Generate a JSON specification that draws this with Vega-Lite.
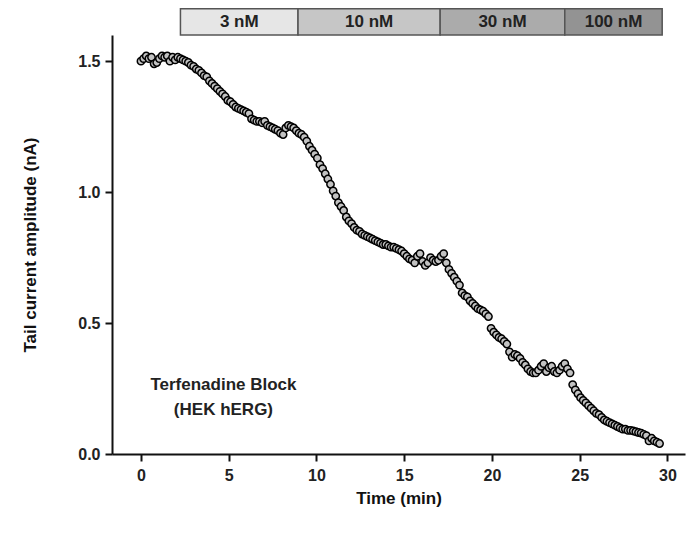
{
  "$schema": "https://vega.github.io/schema/vega-lite/v6.json",
  "width": 573,
  "height": 419,
  "autosize": {"type": "none"},
  "padding": {"left": 112, "top": 35, "right": 6, "bottom": 84},
  "config": {"view": {"stroke": null}, "font": "Liberation Sans"},
  "datasets": {
    "tail": [
      {"t":0,"a":1.5},{"t":0.15,"a":1.51},{"t":0.3,"a":1.52},{"t":0.45,"a":1.51},{"t":0.6,"a":1.515},{"t":0.75,"a":1.49},{"t":0.9,"a":1.495},{"t":1.05,"a":1.51},{"t":1.2,"a":1.52},{"t":1.35,"a":1.515},
      {"t":1.5,"a":1.52},{"t":1.65,"a":1.5},{"t":1.8,"a":1.515},{"t":1.95,"a":1.505},{"t":2.1,"a":1.515},{"t":2.25,"a":1.51},{"t":2.4,"a":1.505},{"t":2.55,"a":1.5},{"t":2.7,"a":1.495},{"t":2.85,"a":1.485},
      {"t":3.0,"a":1.48},{"t":3.15,"a":1.47},{"t":3.3,"a":1.465},{"t":3.45,"a":1.455},{"t":3.6,"a":1.445},{"t":3.75,"a":1.44},{"t":3.9,"a":1.425},{"t":4.05,"a":1.415},{"t":4.2,"a":1.405},{"t":4.35,"a":1.395},
      {"t":4.5,"a":1.385},{"t":4.65,"a":1.375},{"t":4.8,"a":1.365},{"t":4.95,"a":1.35},{"t":5.1,"a":1.345},{"t":5.25,"a":1.335},{"t":5.4,"a":1.325},{"t":5.55,"a":1.32},{"t":5.7,"a":1.315},{"t":5.85,"a":1.31},
      {"t":6.0,"a":1.305},{"t":6.15,"a":1.3},{"t":6.3,"a":1.28},{"t":6.45,"a":1.275},{"t":6.6,"a":1.27},{"t":6.75,"a":1.27},{"t":6.9,"a":1.265},{"t":7.05,"a":1.27},{"t":7.2,"a":1.255},{"t":7.35,"a":1.25},
      {"t":7.5,"a":1.245},{"t":7.65,"a":1.24},{"t":7.8,"a":1.235},{"t":7.95,"a":1.225},{"t":8.1,"a":1.22},{"t":8.25,"a":1.245},{"t":8.4,"a":1.255},{"t":8.55,"a":1.25},{"t":8.7,"a":1.245},{"t":8.85,"a":1.235},
      {"t":9.0,"a":1.225},{"t":9.15,"a":1.22},{"t":9.3,"a":1.21},{"t":9.45,"a":1.195},{"t":9.6,"a":1.175},{"t":9.75,"a":1.16},{"t":9.9,"a":1.145},{"t":10.05,"a":1.13},{"t":10.2,"a":1.105},{"t":10.35,"a":1.09},
      {"t":10.5,"a":1.07},{"t":10.65,"a":1.05},{"t":10.8,"a":1.03},{"t":10.95,"a":1.005},{"t":11.1,"a":0.985},{"t":11.25,"a":0.96},{"t":11.4,"a":0.945},{"t":11.55,"a":0.93},{"t":11.7,"a":0.905},{"t":11.85,"a":0.89},
      {"t":12.0,"a":0.88},{"t":12.15,"a":0.865},{"t":12.3,"a":0.855},{"t":12.45,"a":0.85},{"t":12.6,"a":0.84},{"t":12.75,"a":0.835},{"t":12.9,"a":0.83},{"t":13.05,"a":0.825},{"t":13.2,"a":0.82},{"t":13.35,"a":0.815},
      {"t":13.5,"a":0.81},{"t":13.65,"a":0.805},{"t":13.8,"a":0.8},{"t":13.95,"a":0.8},{"t":14.1,"a":0.795},{"t":14.25,"a":0.79},{"t":14.4,"a":0.79},{"t":14.55,"a":0.785},{"t":14.7,"a":0.78},{"t":14.85,"a":0.775},
      {"t":15.0,"a":0.765},{"t":15.15,"a":0.755},{"t":15.3,"a":0.745},{"t":15.45,"a":0.74},{"t":15.6,"a":0.73},{"t":15.75,"a":0.755},{"t":15.9,"a":0.765},{"t":16.05,"a":0.735},{"t":16.2,"a":0.72},{"t":16.35,"a":0.73},
      {"t":16.5,"a":0.75},{"t":16.65,"a":0.74},{"t":16.8,"a":0.735},{"t":16.95,"a":0.74},{"t":17.1,"a":0.755},{"t":17.25,"a":0.765},{"t":17.4,"a":0.73},{"t":17.55,"a":0.705},{"t":17.7,"a":0.69},{"t":17.85,"a":0.675},
      {"t":18.0,"a":0.66},{"t":18.15,"a":0.645},{"t":18.3,"a":0.615},{"t":18.45,"a":0.605},{"t":18.6,"a":0.6},{"t":18.75,"a":0.585},{"t":18.9,"a":0.575},{"t":19.05,"a":0.565},{"t":19.2,"a":0.555},{"t":19.35,"a":0.55},
      {"t":19.5,"a":0.545},{"t":19.65,"a":0.535},{"t":19.8,"a":0.525},{"t":19.95,"a":0.48},{"t":20.1,"a":0.465},{"t":20.25,"a":0.455},{"t":20.4,"a":0.445},{"t":20.55,"a":0.44},{"t":20.7,"a":0.43},{"t":20.85,"a":0.42},
      {"t":21.0,"a":0.39},{"t":21.15,"a":0.37},{"t":21.3,"a":0.38},{"t":21.45,"a":0.375},{"t":21.6,"a":0.365},{"t":21.75,"a":0.35},{"t":21.9,"a":0.34},{"t":22.05,"a":0.325},{"t":22.2,"a":0.315},{"t":22.35,"a":0.31},
      {"t":22.5,"a":0.31},{"t":22.65,"a":0.32},{"t":22.8,"a":0.335},{"t":22.95,"a":0.345},{"t":23.1,"a":0.315},{"t":23.25,"a":0.33},{"t":23.4,"a":0.335},{"t":23.55,"a":0.315},{"t":23.7,"a":0.31},{"t":23.85,"a":0.32},
      {"t":24.0,"a":0.335},{"t":24.15,"a":0.345},{"t":24.3,"a":0.325},{"t":24.45,"a":0.31},{"t":24.6,"a":0.265},{"t":24.75,"a":0.245},{"t":24.9,"a":0.23},{"t":25.05,"a":0.215},{"t":25.2,"a":0.205},{"t":25.35,"a":0.195},
      {"t":25.5,"a":0.185},{"t":25.65,"a":0.175},{"t":25.8,"a":0.165},{"t":25.95,"a":0.155},{"t":26.1,"a":0.15},{"t":26.25,"a":0.14},{"t":26.4,"a":0.13},{"t":26.55,"a":0.125},{"t":26.7,"a":0.12},{"t":26.85,"a":0.115},
      {"t":27.0,"a":0.11},{"t":27.15,"a":0.105},{"t":27.3,"a":0.1},{"t":27.45,"a":0.095},{"t":27.6,"a":0.095},{"t":27.75,"a":0.09},{"t":27.9,"a":0.09},{"t":28.05,"a":0.088},{"t":28.2,"a":0.085},{"t":28.35,"a":0.082},
      {"t":28.5,"a":0.08},{"t":28.65,"a":0.075},{"t":28.8,"a":0.07},{"t":28.95,"a":0.05},{"t":29.1,"a":0.06},{"t":29.25,"a":0.05},{"t":29.4,"a":0.045},{"t":29.55,"a":0.04}
    ],
    "conc": [
      {"label": "3 nM", "start": 2.25, "end": 8.95, "shade": "c1"},
      {"label": "10 nM", "start": 8.95, "end": 17.05, "shade": "c2"},
      {"label": "30 nM", "start": 17.05, "end": 24.15, "shade": "c3"},
      {"label": "100 nM", "start": 24.15, "end": 29.7, "shade": "c4"}
    ],
    "note": [{"note": "Terfenadine Block (HEK hERG)"}]
  },
  "layer": [
    {
      "data": {"name": "tail"},
      "mark": {"type": "circle", "size": 54, "fill": "#c2c2c2", "stroke": "#000000", "strokeWidth": 1.5, "opacity": 1},
      "encoding": {
        "x": {
          "field": "t", "type": "quantitative",
          "scale": {"domain": [-1.65, 31], "nice": false, "zero": false},
          "axis": {
            "values": [0, 5, 10, 15, 20, 25, 30], "title": "Time (min)", "grid": false,
            "domainColor": "#111", "domainWidth": 2, "tickColor": "#111", "tickWidth": 2, "tickSize": 7,
            "labelFontSize": 16, "labelFontWeight": "bold", "labelColor": "#222", "labelPadding": 6,
            "titleFontSize": 17, "titleFontWeight": "bold", "titleColor": "#111", "titlePadding": 7
          }
        },
        "y": {
          "field": "a", "type": "quantitative",
          "scale": {"domain": [0, 1.6], "nice": false},
          "axis": {
            "values": [0, 0.5, 1, 1.5], "format": ".1f", "title": "Tail current amplitude (nA)", "grid": false,
            "domainColor": "#111", "domainWidth": 2, "tickColor": "#111", "tickWidth": 2, "tickSize": 7,
            "labelFontSize": 16, "labelFontWeight": "bold", "labelColor": "#222", "labelPadding": 5,
            "titleFontSize": 17, "titleFontWeight": "bold", "titleColor": "#111", "titlePadding": 38
          }
        }
      }
    },
    {
      "data": {"name": "conc"},
      "mark": {"type": "rect", "stroke": "#555555", "strokeWidth": 1.5, "clip": false},
      "encoding": {
        "x": {"field": "start", "type": "quantitative"},
        "x2": {"field": "end"},
        "y": {"datum": 1.6},
        "y2": {"datum": 1.7},
        "fill": {"field": "shade", "type": "nominal", "scale": {"domain": ["c1", "c2", "c3", "c4"], "range": ["#e6e6e6", "#c6c6c6", "#ababab", "#939393"]}, "legend": null}
      }
    },
    {
      "data": {"name": "conc"},
      "transform": [{"calculate": "(datum.start + datum.end) / 2", "as": "mid"}],
      "mark": {"type": "text", "fontSize": 17, "fontWeight": "bold", "color": "#222", "baseline": "middle", "align": "center", "clip": false},
      "encoding": {
        "x": {"field": "mid", "type": "quantitative"},
        "y": {"datum": 1.65},
        "text": {"field": "label"}
      }
    },
    {
      "data": {"name": "note"},
      "mark": {"type": "text", "text": ["Terfenadine Block", "(HEK hERG)"], "fontSize": 17, "fontWeight": "bold", "color": "#222", "align": "center", "baseline": "middle", "lineHeight": 25},
      "encoding": {
        "x": {"datum": 4.7},
        "y": {"datum": 0.263}
      }
    }
  ]
}
